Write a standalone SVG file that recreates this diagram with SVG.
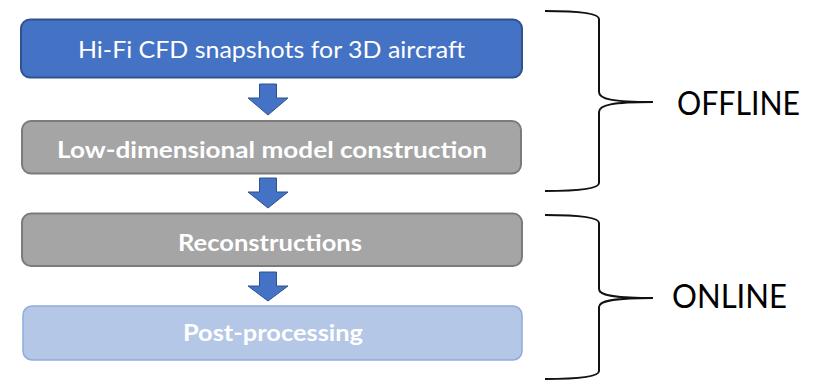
<svg xmlns="http://www.w3.org/2000/svg" width="819" height="383" viewBox="0 0 819 383">
  <style>
    .box-blue { fill: #4472C4; stroke: #2F528F; stroke-width: 2; }
    .box-gray { fill: #A5A5A5; stroke: #7B7B7B; stroke-width: 2; }
    .box-light { fill: #B4C7E7; stroke: #8FAADC; stroke-width: 1.5; }
    .label { font-family: Lato, "Open Sans", "Liberation Sans", sans-serif; fill: #FFFFFF; text-anchor: start; }
    .bold { font-weight: bold; }
    .arrow { fill: #4472C4; stroke: #2F528F; stroke-width: 1; }
    .brace { fill: none; stroke: #111111; stroke-width: 2; }
    .side { font-family: Lato, "Open Sans", "Liberation Sans", sans-serif; fill: #000000; font-size: 33px; }
  </style>
  <rect width="819" height="383" fill="#FFFFFF"/>

  <g id="node-hifi">
    <rect class="box-blue" x="21" y="19.5" width="501" height="58" rx="9"/>
    <text class="label" x="78" y="58" font-size="24" textLength="387" lengthAdjust="spacingAndGlyphs">Hi-Fi CFD snapshots for 3D aircraft</text>
  </g>

  <g id="node-lowdim">
    <rect class="box-gray" x="22" y="121" width="499" height="52.5" rx="9"/>
    <text class="label bold" x="57" y="158" font-size="23" textLength="430" lengthAdjust="spacingAndGlyphs">Low-dimensional model construction</text>
  </g>

  <g id="node-recon">
    <rect class="box-gray" x="22" y="213.5" width="500" height="52.5" rx="9"/>
    <text class="label bold" x="178" y="251" font-size="23" textLength="184" lengthAdjust="spacingAndGlyphs">Reconstructions</text>
  </g>

  <g id="node-post">
    <rect class="box-light" x="23" y="306" width="499" height="54" rx="9"/>
    <text class="label bold" x="183" y="341" font-size="23" textLength="180" lengthAdjust="spacingAndGlyphs">Post-processing</text>
  </g>

  <g id="connectors">
    <path class="arrow" d="M259.5,84 H276.5 V98 H288 L268,115 L248,98 H259.5 Z"/>
    <path class="arrow" d="M259.5,178 H276.5 V192 H288 L268,208 L248,192 H259.5 Z"/>
    <path class="arrow" d="M259.5,272 H276.5 V286 H288 L268,301 L248,286 H259.5 Z"/>
  </g>

  <g id="group-offline">
    <path class="brace" d="M545,11 C578,11 599,13 599,19 L599,92 C599,99 612,102 653,102 C612,102 599,105 599,112 L599,183 C599,189 578,191 545,191"/>
    <text class="side" x="677" y="115" textLength="123" lengthAdjust="spacingAndGlyphs">OFFLINE</text>
  </g>

  <g id="group-online">
    <path class="brace" d="M545,215 C578,215 599,217 599,223 L599,289 C599,295 612,298 653,298 C612,298 599,301 599,307 L599,371 C599,377 578,379 545,379"/>
    <text class="side" x="672" y="308" textLength="115" lengthAdjust="spacingAndGlyphs">ONLINE</text>
  </g>
</svg>
